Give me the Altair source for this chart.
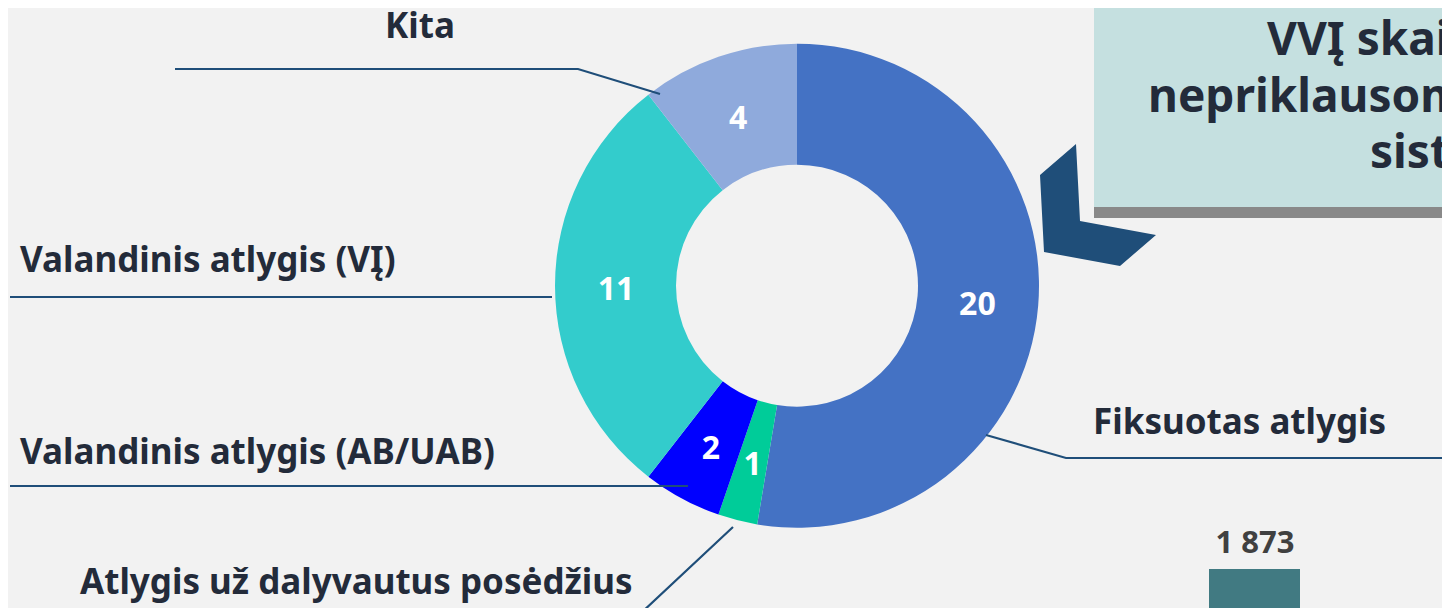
import altair as alt
import pandas as pd

# ---------------- data ----------------
categories = [
    "Fiksuotas atlygis",
    "Atlygis už dalyvautus posėdžius",
    "Valandinis atlygis (AB/UAB)",
    "Valandinis atlygis (VĮ)",
    "Kita",
]
values = [20, 1, 2, 11, 4]
colors = ["#4472C4", "#00CC99", "#0000FF", "#33CCCC", "#8FAADC"]

title_lines = ["VVĮ skaičius pagal", "nepriklausomų narių atlygio", "sistemas"]
bar_values = [1873]

# ---------------- layout (page pixels) ----------------
OFF = 8  # page margin
W, H = 1434, 600
CX, CY = 797, 285.7
R_OUT, R_IN, R_LAB = 242, 121, 181

FONT = "Noto Sans"
TXT = "#232B3A"
LINE = "#1F4E79"

label_layout = {
    "Kita": (420, 38, "center"),
    "Valandinis atlygis (VĮ)": (20, 272, "left"),
    "Valandinis atlygis (AB/UAB)": (20, 464, "left"),
    "Atlygis už dalyvautus posėdžius": (80, 594, "left"),
    "Fiksuotas atlygis": (1093, 434, "left"),
}
leader_layout = {
    "Kita": [(175, 69), (578, 69), (660, 94)],
    "Valandinis atlygis (VĮ)": [(10, 297), (552, 297)],
    "Valandinis atlygis (AB/UAB)": [(10, 486), (688, 486)],
    "Atlygis už dalyvautus posėdžius": [(78, 614), (640, 614), (733, 527)],
    "Fiksuotas atlygis": [(986, 435), (1066, 458), (1460, 458)],
}
title_layout = [(1267, 55), (1148, 112), (1370, 168)]
chevron = [(1076, 144), (1040, 175), (1044, 252), (1120, 266), (1156, 235), (1080, 221)]

# ---------------- tables ----------------
df = pd.DataFrame({"cat": categories, "value": values, "idx": list(range(len(values)))})

lab_rows = []
for c in categories:
    x, y, a = label_layout[c]
    lab_rows.append({"cat": c, "x": x - OFF, "y": y - OFF, "align": a})
lab_df = pd.DataFrame(lab_rows)

line_rows = []
for c in categories:
    for i, (x, y) in enumerate(leader_layout[c]):
        line_rows.append({"cat": c, "i": i, "x": x - OFF, "y": y - OFF})
line_df = pd.DataFrame(line_rows)

title_df = pd.DataFrame(
    [{"t": t, "x": x - OFF, "y": y - OFF} for t, (x, y) in zip(title_lines, title_layout)]
)

bar_df = pd.DataFrame({"v": bar_values})
one = pd.DataFrame({"a": [0]})

# ---------------- layers ----------------
box = alt.Chart(one).mark_rect(color="#C5E0E0").encode(
    x=alt.value(1094 - OFF), x2=alt.value(W + 20), y=alt.value(-20), y2=alt.value(207 - OFF)
)
shadow = alt.Chart(one).mark_rect(color="#898989").encode(
    x=alt.value(1094 - OFF), x2=alt.value(W + 20), y=alt.value(207 - OFF), y2=alt.value(218 - OFF)
)

titles = alt.Chart(title_df).mark_text(
    font=FONT, fontSize=46, fontWeight="bold", color=TXT, align="left", baseline="alphabetic"
).encode(
    x=alt.X("x:Q", scale=None), y=alt.Y("y:Q", scale=None), text="t:N"
)

feature = {
    "type": "Feature",
    "properties": {},
    "geometry": {
        "type": "Polygon",
        "coordinates": [[[x - OFF, y - OFF] for x, y in chevron] + [[chevron[0][0] - OFF, chevron[0][1] - OFF]]],
    },
}
chev = alt.Chart(alt.Data(values=[feature])).mark_geoshape(
    fill=LINE, stroke=None
).project(type="identity", scale=1, translate=[0, 0])

arcs = alt.Chart(df).mark_arc(
    radius=R_OUT, radius2=R_IN, x=CX - OFF, y=CY - OFF
).encode(
    theta=alt.Theta("value:Q", stack=True),
    color=alt.Color("cat:N", scale=alt.Scale(domain=categories, range=colors), legend=None),
    order=alt.Order("idx:Q"),
)

vals = alt.Chart(df).mark_text(
    radius=R_LAB, x=CX - OFF, y=CY - OFF, dy=4,
    font=FONT, fontSize=32, fontWeight="bold", color="white", baseline="middle",
).encode(
    theta=alt.Theta("value:Q", stack=True),
    text=alt.Text("value:Q"),
    detail="cat:N",
    order=alt.Order("idx:Q"),
)

leaders = alt.Chart(line_df).mark_line(color=LINE, strokeWidth=2.2).encode(
    x=alt.X("x:Q", scale=None),
    y=alt.Y("y:Q", scale=None),
    detail="cat:N",
    order="i:Q",
)

labels_left = alt.Chart(lab_df).transform_filter("datum.align == 'left'").mark_text(
    font=FONT, fontSize=35, fontWeight="bold", color=TXT, align="left", baseline="alphabetic"
).encode(x=alt.X("x:Q", scale=None), y=alt.Y("y:Q", scale=None), text="cat:N")

labels_center = alt.Chart(lab_df).transform_filter("datum.align == 'center'").mark_text(
    font=FONT, fontSize=35, fontWeight="bold", color=TXT, align="center", baseline="alphabetic"
).encode(x=alt.X("x:Q", scale=None), y=alt.Y("y:Q", scale=None), text="cat:N")

ybar = alt.Scale(domain=[0, 1873], range=[H + 10, 569 - OFF])
bar = alt.Chart(bar_df).mark_bar(color="#417A82").encode(
    x=alt.value(1209 - OFF), x2=alt.value(1300 - OFF),
    y=alt.Y("v:Q", scale=ybar, axis=None), y2=alt.datum(0),
)
bar_lab = alt.Chart(bar_df).transform_calculate(
    lab="replace(format(datum.v, ','), ',', ' ')"
).mark_text(
    font=FONT, fontSize=31, fontWeight="bold", color="#404040", align="center",
    baseline="alphabetic", dy=-16,
).encode(
    x=alt.value(1255 - OFF), y=alt.Y("v:Q", scale=ybar, axis=None), text="lab:N"
)

chart = alt.layer(
    box, shadow, titles, chev, arcs, vals, leaders, labels_left, labels_center, bar, bar_lab
).resolve_scale(
    x="independent", y="independent", color="independent"
).properties(
    width=W, height=H, background="#F2F2F2", padding=0,
    autosize=alt.AutoSizeParams(type="none"),
).configure_view(stroke=None)

chart.save("out.html", embed_options={"renderer": "svg", "actions": False})
